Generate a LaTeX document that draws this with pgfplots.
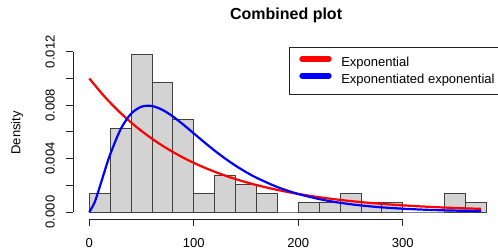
\documentclass[border=0pt]{standalone}
\usepackage{pgfplots}
\pgfplotsset{compat=1.18}
\usepackage{fontspec}
\setmainfont{Liberation Sans}
\definecolor{barfill}{HTML}{D3D3D3}
\definecolor{axisgray}{HTML}{222222}
\begin{document}
\begin{tikzpicture}
\path[use as bounding box] (0,0) rectangle (498pt,250pt);
\begin{axis}[
  at={(73.3pt,31pt)}, anchor=south west,
  scale only axis, width=425.6pt, height=172.2pt,
  xmin=-15.3, xmax=392, ymin=-0.000524, ymax=0.01237,
  clip=false,
  axis line style={draw=none},
  xtick pos=bottom, ytick pos=left,
  tick align=outside, major tick length=7pt,
  tick style={axisgray, line width=0.9pt},
  xtick={0,100,200,300},
  ytick={0,0.002,0.004,0.006,0.008,0.010,0.012},
  yticklabels={0.000,,0.004,,0.008,,0.012},
  scaled y ticks=false,
  /pgf/number format/assume math mode=true,
  font=\fontsize{13}{15}\selectfont,
  xticklabel style={anchor=north, inner sep=0pt, font=\fontsize{13}{15}\selectfont},
  xticklabel shift=12.5pt,
  yticklabel style={rotate=90, anchor=base, inner sep=0pt, font=\fontsize{13}{15}\selectfont},
  yticklabel shift=11.7pt,
  title={\textbf{Combined plot}},
  title style={at={(rel axis cs:0.5,1)}, anchor=base, yshift=21.3pt, font=\fontsize{16}{19}\selectfont},
  ylabel={Density},
  ylabel style={at={([xshift=-53pt]rel axis cs:0,0.5)}, anchor=base, rotate=0, font=\fontsize{13}{15}\selectfont},
  legend cell align=left,
  legend style={at={(axis cs:191.1,0.01237)}, anchor=north west,
    draw=axisgray, line width=0.7pt, fill=white,
    inner xsep=10pt, inner ysep=7pt, row sep=0pt, column sep=9.6pt,
    nodes={inner sep=0pt, text height=12.5pt, text depth=4.2pt, font=\fontsize{13}{15}\selectfont}},
  legend image code/.code={
    \path[draw=none, fill=none] (0pt,-5pt) rectangle (32.4pt,5pt);
    \draw[#1, line width=6pt, line cap=round] (3pt,3.5pt) -- (29.4pt,3.5pt);
  },
]
\addplot[ybar interval, fill=barfill, draw=black!75, line width=0.8pt, forget plot] coordinates {
(0,0.0013889) (20,0.0062500) (40,0.0118056) (60,0.0097222) (80,0.0069444)
(100,0.0013889) (120,0.0027778) (140,0.0020833) (160,0.0013889) (180,0)
(200,0.00069444) (220,0.00069444) (240,0.0013889) (260,0.00069444) (280,0.00069444)
(300,0) (320,0) (340,0.0013889) (360,0.00069444) (380,0)
};
\addplot[red, line width=2.2pt, smooth] coordinates {
(0,0.01) (15,0.008607) (30,0.007408) (45,0.006376) (60,0.005488) (75,0.004724)
(90,0.004066) (105,0.003499) (120,0.003012) (135,0.002592) (150,0.002231)
(165,0.001920) (180,0.001653) (195,0.001423) (210,0.001225) (225,0.001054)
(240,0.000907) (255,0.000781) (270,0.000672) (285,0.000578) (300,0.000498)
(315,0.000429) (330,0.000369) (345,0.000317) (360,0.000273) (375,0.000235)
};
\addlegendentry{Exponential}
\addplot[blue, line width=2.2pt, smooth] coordinates {
(0,0) (5,0.000700) (10,0.001878) (15,0.003136) (20,0.004317) (30,0.006199)
(40,0.007359) (50,0.007887) (60,0.007934) (70,0.007648) (80,0.007154)
(90,0.006544) (100,0.005886) (110,0.005227) (120,0.004593) (130,0.004004)
(140,0.003469) (150,0.002989) (160,0.002565) (180,0.001869) (200,0.001349)
(225,0.000889) (250,0.000583) (275,0.000380) (300,0.000247) (325,0.000160)
(350,0.000104) (375,0.0000674)
};
\addlegendentry{Exponentiated exponential}
\draw[axisgray, line width=0.9pt] (axis cs:0,-0.000524) -- (axis cs:300,-0.000524);
\draw[axisgray, line width=0.9pt] (axis cs:-15.3,0) -- (axis cs:-15.3,0.012);
\end{axis}
\end{tikzpicture}
\end{document}
